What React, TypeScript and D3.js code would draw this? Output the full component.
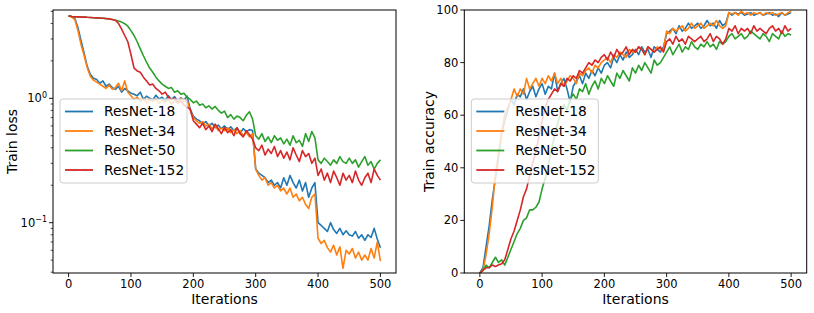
import React from 'react';
import * as d3 from 'd3';

// one value every 5 iterations, 0..500
const ITER_STEP = 5;
const models = ['ResNet-18', 'ResNet-34', 'ResNet-50', 'ResNet-152'];
const colors = ['#1f77b4', '#ff7f0e', '#2ca02c', '#d62728'];
const xTicks = [0, 100, 200, 300, 400, 500];
const accTicks = [0, 20, 40, 60, 80, 100];
const lossMajorTicks = [0.1, 1];

const lossR18 = [
  4.6, 4.55, 4.4, 3.7, 2.9, 2.3, 1.8, 1.55, 1.45, 1.42,
  1.32, 1.38, 1.25, 1.3, 1.22, 1.18, 1.25, 1.12, 1.2, 1.15,
  1.1, 1.08, 1.05, 1.12, 0.98, 1.04, 1.0, 0.97, 1.06, 0.99,
  1.02, 0.96, 1.05, 0.98, 1.03, 0.95, 1.01, 0.97, 1.04, 0.82,
  0.72, 0.68, 0.66, 0.62, 0.65, 0.6, 0.63, 0.58, 0.61, 0.57,
  0.6, 0.56, 0.59, 0.55, 0.58, 0.52, 0.57, 0.54, 0.56, 0.55,
  0.27, 0.25, 0.24, 0.23, 0.21, 0.22, 0.2, 0.21, 0.19, 0.23,
  0.2, 0.24, 0.21, 0.19, 0.22, 0.18, 0.21, 0.16, 0.19, 0.21,
  0.1, 0.095, 0.09, 0.085, 0.1, 0.088, 0.082, 0.09, 0.08, 0.086,
  0.08, 0.078, 0.085, 0.075, 0.08, 0.072, 0.08, 0.076, 0.09, 0.074,
  0.063,
];
const lossR34 = [
  4.6, 4.5, 4.3, 3.5, 2.7, 2.2, 1.75, 1.5, 1.4, 1.35,
  1.3, 1.25, 1.2, 1.28, 1.18, 1.22, 1.32, 1.15, 1.38, 1.12,
  1.05, 0.98, 1.02, 0.95, 1.0, 0.92, 0.97, 0.94, 0.99, 0.91,
  0.96, 0.93, 0.98, 0.9, 0.95, 0.92, 1.0, 0.94, 0.97, 0.8,
  0.7, 0.66, 0.63, 0.65, 0.6, 0.62, 0.57, 0.6, 0.55, 0.58,
  0.55, 0.58, 0.53, 0.56, 0.52, 0.55, 0.5, 0.53, 0.49, 0.52,
  0.27, 0.24, 0.22, 0.23, 0.2, 0.21, 0.19, 0.2, 0.18, 0.19,
  0.17, 0.19, 0.16, 0.17, 0.15, 0.16, 0.14, 0.13, 0.16, 0.17,
  0.075, 0.068, 0.072, 0.063, 0.058, 0.066, 0.055, 0.064, 0.043, 0.06,
  0.056, 0.062, 0.052, 0.058, 0.05, 0.055, 0.05, 0.062, 0.052, 0.07,
  0.049,
];
const lossR50 = [
  4.6, 4.55, 4.53, 4.52, 4.5, 4.5, 4.48, 4.47, 4.45, 4.43,
  4.42, 4.4, 4.37, 4.34, 4.3, 4.25, 4.18, 4.1, 3.98, 3.8,
  3.5, 3.2, 2.85, 2.5, 2.2, 1.95, 1.75, 1.62, 1.48, 1.38,
  1.3, 1.25, 1.2, 1.22, 1.12, 1.15, 1.08, 1.1, 1.02, 0.98,
  0.92, 0.95, 0.88, 0.9, 0.84, 0.87, 0.82, 0.86, 0.8, 0.76,
  0.79, 0.7, 0.74, 0.68, 0.72, 0.7, 0.66, 0.73, 0.78, 0.68,
  0.5, 0.47, 0.52, 0.45, 0.49, 0.44, 0.5, 0.46, 0.48, 0.43,
  0.47, 0.42, 0.5, 0.44, 0.46, 0.41, 0.52, 0.45, 0.54, 0.48,
  0.32, 0.3, 0.33, 0.31, 0.29, 0.32, 0.3, 0.34, 0.31, 0.3,
  0.33, 0.3, 0.32, 0.28, 0.31, 0.34, 0.29, 0.31, 0.27, 0.3,
  0.32,
];
const lossR152 = [
  4.6, 4.55, 4.53, 4.52, 4.5, 4.5, 4.48, 4.47, 4.45, 4.43,
  4.42, 4.4, 4.38, 4.35, 4.3, 4.25, 4.0, 3.6, 3.2, 2.85,
  2.25, 1.75, 1.66, 1.62, 1.48, 1.38, 1.28, 1.3, 1.2, 1.15,
  1.08, 1.12, 1.02, 0.98, 1.0, 0.92, 0.95, 0.88, 0.85, 0.82,
  0.66, 0.62, 0.58, 0.63, 0.56, 0.6, 0.54, 0.62, 0.57, 0.52,
  0.58, 0.53, 0.56, 0.5, 0.58, 0.52, 0.49, 0.55, 0.51, 0.47,
  0.4, 0.38, 0.42, 0.35, 0.39, 0.36, 0.41, 0.34, 0.38, 0.33,
  0.37, 0.32, 0.4, 0.35, 0.31, 0.38, 0.34, 0.36, 0.3, 0.33,
  0.24, 0.27, 0.22, 0.25, 0.21, 0.26, 0.23, 0.2, 0.25, 0.22,
  0.24, 0.21, 0.26, 0.22, 0.2, 0.23, 0.25, 0.21, 0.27, 0.24,
  0.22,
];

const accR18 = [
  0, 2, 10, 18, 28, 36, 44, 53, 58, 62,
  66, 64, 68, 67, 70, 66, 69, 71, 67, 70,
  72, 68, 71, 70, 76, 69, 72, 74, 70, 65,
  71, 73, 75, 72, 76, 74, 77, 75, 78, 76,
  79, 80, 78, 82, 80, 83, 81, 84, 82, 83,
  85, 83, 86, 84, 85, 82, 86, 85, 84, 86,
  91, 92, 93, 91, 94, 92, 93, 95, 93, 94,
  95, 93, 94, 96, 94, 95, 93, 96, 94, 95,
  99, 98, 99, 98.5, 99, 98, 98.5, 99, 98, 98.5,
  99, 98, 98.5, 99, 98, 98.5, 97.5, 99, 98, 98.5,
  99,
];
const accR34 = [
  0, 1, 7, 15, 25, 38, 46, 54, 60, 63,
  66, 70, 67, 70, 68, 74, 70, 72, 74, 71,
  74, 72, 75, 73, 76, 72, 74, 71, 73, 75,
  74, 72, 76, 75, 77, 78, 76, 79, 78, 80,
  81, 82, 80, 83, 82, 84, 83, 82, 85, 84,
  84, 86, 85, 83, 86, 85, 84, 86, 85, 85,
  92, 91, 93, 92, 93, 94, 92, 93, 95, 93,
  94, 95, 93, 94, 95, 94, 96, 94, 93, 94,
  99, 98.5, 99, 98, 99.5, 98.5, 99, 98, 99, 98.5,
  99, 98, 99, 98.5, 99, 98, 98.5, 99, 98, 99,
  99.5,
];
const accR50 = [
  0, 1, 3, 2, 4, 6, 4, 5, 3, 6,
  9, 12, 15, 17, 20, 21, 24, 24, 25, 27,
  32, 36, 41, 47, 52, 57, 61, 64, 62, 66,
  68, 66, 70, 69, 72, 68, 71, 73, 70, 74,
  72, 75, 73, 71, 76, 74, 77, 75, 73, 78,
  76, 79, 77, 80, 78, 76, 81, 79, 80, 82,
  84, 86, 83, 85, 87, 84, 86, 85, 88, 86,
  85, 87, 86, 88, 86, 87, 85, 88, 87, 88,
  90, 91, 89, 90, 91, 89, 90, 92, 91, 90,
  89, 91, 90, 88, 91, 90, 89, 92, 90, 91,
  90.5,
];
const accR152 = [
  0, 1, 2, 2, 3, 2.5, 3, 3.5, 5, 9,
  13, 16, 20, 24, 29, 32, 37, 42, 46, 52,
  58, 63, 66, 68, 70, 69, 72, 71, 74, 73,
  75, 74, 77, 76, 78, 80, 79, 81, 80, 82,
  83, 81, 84, 82, 85, 83, 84, 86, 83, 85,
  84, 86, 85, 83, 86, 85, 84, 85, 86, 84,
  88, 89, 87, 90, 88, 89, 87, 90, 89, 88,
  89, 90, 88, 89, 91, 88, 90, 89, 87, 89,
  93, 92, 94, 91, 93, 92, 93, 91, 94, 92,
  93, 92, 91, 93, 94, 92, 93, 91, 94, 92,
  93,
];

const lossSeries = [lossR18, lossR34, lossR50, lossR152];
const accSeries = [accR18, accR34, accR50, accR152];

const FONT = 'DejaVu Sans, sans-serif';
const TOP = 10;
const BOTTOM = 273;

type Scale = (v: number) => number;

interface PanelProps {
  left: number;
  right: number;
  y: Scale;
  series: number[][];
  ylabel: string;
  ylabelX: number;
  yTickLabels: React.ReactNode;
}

const Panel: React.FC<PanelProps> = ({ left, right, y, series, ylabel, ylabelX, yTickLabels }) => {
  const x = d3.scaleLinear().domain([-25, 525]).range([left, right]);
  const line = d3
    .line<number>()
    .x((_, i) => x(i * ITER_STEP))
    .y((d) => y(d));
  const clipId = `clip-${left}`;
  const legX = left + 7;
  const legY = 99;
  return (
    <g>
      <defs>
        <clipPath id={clipId}>
          <rect x={left} y={TOP} width={right - left} height={BOTTOM - TOP} />
        </clipPath>
      </defs>
      <g clipPath={`url(#${clipId})`}>
        {series.map((s, k) => (
          <path key={k} d={line(s) ?? ''} fill="none" stroke={colors[k]} strokeWidth={1.6} strokeLinejoin="round" />
        ))}
      </g>
      {/* legend */}
      <rect x={legX} y={legY} width={127} height={84} rx={3} fill="white" fillOpacity={0.8} stroke="#cccccc" strokeWidth={1} />
      {models.map((m, k) => (
        <g key={m}>
          <line x1={legX + 5} x2={legX + 33} y1={legY + 12.5 + k * 19.5} y2={legY + 12.5 + k * 19.5} stroke={colors[k]} strokeWidth={1.8} />
          <text x={legX + 44} y={legY + 12.5 + k * 19.5} dy="0.35em" fontSize={13.8} fontFamily={FONT} fill="#000">
            {m}
          </text>
        </g>
      ))}
      {/* frame */}
      <rect x={left} y={TOP} width={right - left} height={BOTTOM - TOP} fill="none" stroke="#000" strokeWidth={1} />
      {xTicks.map((t) => (
        <g key={t}>
          <line x1={x(t)} x2={x(t)} y1={BOTTOM} y2={BOTTOM + 4} stroke="#000" strokeWidth={0.9} />
          <text x={x(t)} y={BOTTOM + 15} textAnchor="middle" fontSize={11.5} fontFamily={FONT} fill="#000">
            {t}
          </text>
        </g>
      ))}
      <text x={(left + right) / 2} y={304} textAnchor="middle" fontSize={14} fontFamily={FONT} fill="#000">
        Iterations
      </text>
      {yTickLabels}
      <text
        transform={`translate(${ylabelX},${(TOP + BOTTOM) / 2}) rotate(-90)`}
        textAnchor="middle"
        fontSize={14}
        fontFamily={FONT}
        fill="#000"
      >
        {ylabel}
      </text>
    </g>
  );
};

export default function App() {
  const lossY = d3.scaleLog().domain([0.0394, 5.13]).range([BOTTOM, TOP]);
  const accY = d3.scaleLinear().domain([0, 100]).range([BOTTOM, TOP]);
  const leftL = 53;
  const rightL = 464.3;

  const minorTicks = lossY.ticks().filter((t) => !lossMajorTicks.some((m) => Math.abs(m - t) < 1e-9));

  const lossLabels = (
    <g>
      {minorTicks.map((t) => (
        <line key={t} x1={leftL} x2={leftL - 2.3} y1={lossY(t)} y2={lossY(t)} stroke="#000" strokeWidth={0.7} />
      ))}
      {lossMajorTicks.map((t) => (
        <g key={t}>
          <line x1={leftL} x2={leftL - 4} y1={lossY(t)} y2={lossY(t)} stroke="#000" strokeWidth={0.9} />
          <text x={leftL - 6} y={lossY(t)} dy="0.35em" textAnchor="end" fontSize={11.5} fontFamily={FONT} fill="#000">
            10
            <tspan fontSize={8} dy="-0.55em">{Math.log10(t) < 0 ? '\u22121' : '0'}</tspan>
          </text>
        </g>
      ))}
    </g>
  );

  const accLabels = (
    <g>
      {accTicks.map((t) => (
        <g key={t}>
          <line x1={rightL} x2={rightL - 4} y1={accY(t)} y2={accY(t)} stroke="#000" strokeWidth={0.9} />
          <text x={rightL - 6} y={accY(t)} dy="0.35em" textAnchor="end" fontSize={11.5} fontFamily={FONT} fill="#000">
            {t}
          </text>
        </g>
      ))}
    </g>
  );

  return (
    <svg width={814} height={313} style={{ position: 'absolute', left: 0, top: 0, background: '#fff' }}>
      <Panel left={leftL} right={396} y={lossY} series={lossSeries} ylabel="Train loss" ylabelX={17} yTickLabels={lossLabels} />
      <Panel left={rightL} right={806.7} y={accY} series={accSeries} ylabel="Train accuracy" ylabelX={434} yTickLabels={accLabels} />
    </svg>
  );
}
